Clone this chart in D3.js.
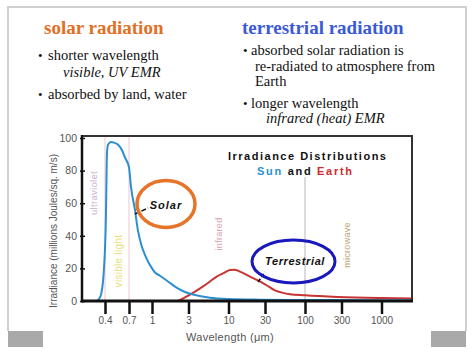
<!DOCTYPE html>
<html>
<head>
<meta charset="utf-8">
<script src="https://cdn.jsdelivr.net/npm/d3@7"></script>
<style>
  html, body { margin: 0; padding: 0; background: #fff; }
  svg { display: block; }
</style>
</head>
<body>
<svg id="chart" width="474" height="355"></svg>
<script>
// ---- data ----
const solarWavelength = [0.33, 0.345, 0.365, 0.382, 0.395, 0.40, 0.409, 0.414, 0.419, 0.43, 0.46, 0.50, 0.54, 0.60, 0.638, 0.70, 0.722, 0.767, 0.805, 0.85, 0.899, 1.0, 1.094, 1.27, 1.62, 2.12, 2.7, 3.43, 5.74, 10, 25.8, 100, 1000, 2500];
const solarIrradiance = [0, 1, 4, 12, 25, 32, 53, 75, 91, 96, 97.5, 97, 96, 92, 88, 82, 70, 56, 43, 34, 28, 20, 17.5, 15.5, 12, 8, 5.5, 4, 2, 1.2, 0.8, 0.6, 0.5, 0.4];
const earthWavelength = [2.19, 2.7, 3.43, 4.5, 5.74, 7, 8.5, 10.5, 12, 14.1, 19.1, 25.8, 31.9, 40.5, 51.5, 63.5, 100, 270, 1000, 2500];
const earthIrradiance = [0, 2.2, 5, 8.5, 12, 15, 17, 19, 19.2, 18, 15, 12, 9.5, 6.5, 5, 4.2, 3.5, 2.5, 1.8, 1.5];
const xTickValues = [0.4, 0.7, 1, 3, 10, 30, 100, 300, 1000];
const xTickLabels = ["0.4", "0.7", "1", "3", "10", "30", "100", "300", "1000"];
const yTickValues = [0, 20, 40, 60, 80, 100];
const bandLines = [0.4, 0.7];
const bandLabels = ["ultraviolet", "visible light", "infrared", "microwave"];

const svg = d3.select("#chart");
const sans = "'Liberation Sans', Arial, Helvetica, sans-serif";
const serif = "'Liberation Serif', 'Times New Roman', serif";

// ---- slide frame ----
svg.append("path").attr("d", "M8,331 V7 H466 V331").attr("fill", "none").attr("stroke", "#d0d0d0").attr("stroke-width", 2);
svg.append("rect").attr("x", 8).attr("y", 331).attr("width", 35).attr("height", 16).attr("fill", "#a9a9a9");
svg.append("rect").attr("x", 431).attr("y", 331).attr("width", 35).attr("height", 16).attr("fill", "#a9a9a9");

// ---- header text ----
function txt(x, y, s, opts) {
  const t = svg.append("text").attr("x", x).attr("y", y).text(s)
    .attr("font-family", serif).attr("font-size", opts.size || 15)
    .attr("fill", opts.fill || "#111");
  if (opts.bold) t.attr("font-weight", "bold");
  if (opts.italic) t.attr("font-style", "italic");
  if (opts.ls) t.attr("letter-spacing", opts.ls);
  return t;
}
txt(44, 34, "solar radiation", {size: 19, bold: true, fill: "#e26f26"});
txt(38, 60, "•", {size: 13});
txt(48, 60, "shorter wavelength", {size: 14.5});
txt(63, 76.5, "visible, UV EMR", {size: 14.5, italic: true});
txt(38, 99, "•", {size: 13});
txt(48, 99, "absorbed by land, water", {size: 14.5});

txt(242, 34, "terrestrial radiation", {size: 19, bold: true, fill: "#3a5ad6"});
txt(243, 55, "•", {size: 13});
txt(251, 55, "absorbed solar radiation is", {size: 14.5});
txt(255, 71, "re-radiated to atmosphere from", {size: 14.5});
txt(255, 86, "Earth", {size: 14.5});
txt(243, 108, "•", {size: 13});
txt(251, 108, "longer wavelength", {size: 14.5});
txt(266, 123, "infrared (heat) EMR", {size: 14.5, italic: true});

// ---- chart ----
const plot = {left: 82, right: 412, top: 136, bottom: 301};
const x = d3.scaleLog().domain([0.4, 0.7, 1, 1000]).range([105, 129, 152, 381.5]);
const y = d3.scaleLinear().domain([0, 100]).range([301, 138]);

svg.append("clipPath").attr("id", "clip").append("rect")
  .attr("x", plot.left).attr("y", plot.top).attr("width", plot.right - plot.left).attr("height", plot.bottom - plot.top);

// band lines
svg.selectAll(".band").data(bandLines).join("line")
  .attr("x1", d => x(d)).attr("x2", d => x(d)).attr("y1", plot.top).attr("y2", plot.bottom)
  .attr("stroke", "#efc6cf").attr("stroke-width", 1);
svg.append("line").attr("x1", x(100)).attr("x2", x(100)).attr("y1", 177).attr("y2", plot.bottom)
  .attr("stroke", "#b8b8b8").attr("stroke-width", 1);

// band labels (rotated)
const bandPos = [
  {x: 97, y: 193, fill: "#c9b3cc", size: 9.5},
  {x: 122, y: 261, fill: "#e6df7a", size: 10},
  {x: 222, y: 234, fill: "#dca3b2", size: 9},
  {x: 350, y: 245, fill: "#b9a876", size: 9}
];
bandLabels.forEach((s, i) => {
  const p = bandPos[i];
  svg.append("text").attr("transform", `translate(${p.x},${p.y}) rotate(-90)`)
    .attr("text-anchor", "middle").attr("font-family", sans).attr("font-size", p.size)
    .attr("fill", p.fill).attr("letter-spacing", 0.3).text(s);
});

// curves
const line = d3.line().x(d => x(d[0])).y(d => y(d[1])).curve(d3.curveMonotoneX);
const g = svg.append("g").attr("clip-path", "url(#clip)");
g.append("path").datum(earthWavelength.map((w, i) => [w, earthIrradiance[i]]))
  .attr("d", line).attr("fill", "none").attr("stroke", "#c83434").attr("stroke-width", 2);
g.append("path").datum(solarWavelength.map((w, i) => [w, solarIrradiance[i]]))
  .attr("d", line).attr("fill", "none").attr("stroke", "#2b8fd2").attr("stroke-width", 2);

// box
svg.append("path").attr("d", `M${plot.left},${plot.top} H${plot.right} V${plot.bottom}`)
  .attr("fill", "none").attr("stroke", "#333").attr("stroke-width", 2);

// axes
const xAxis = svg.append("g").attr("transform", `translate(0,${plot.bottom})`)
  .call(d3.axisBottom(x).tickValues(xTickValues).tickFormat((d, i) => xTickLabels[i]).tickSize(13).tickSizeOuter(0));
xAxis.select(".domain").remove();
xAxis.selectAll(".tick line").attr("stroke", "#111").attr("stroke-width", 2.5);
xAxis.selectAll(".tick text").attr("font-family", sans).attr("font-size", 10).attr("fill", "#555").attr("dy", "0.5em").attr("y", 18);

const yAxis = svg.append("g").attr("transform", `translate(${plot.left},0)`)
  .call(d3.axisLeft(y).tickValues(yTickValues).tickSize(4).tickSizeOuter(0));
yAxis.select(".domain").remove();
yAxis.selectAll(".tick line").attr("stroke", "#111").attr("stroke-width", 1.5).attr("x2", 3).attr("x1", -2);
yAxis.selectAll(".tick text").attr("font-family", sans).attr("font-size", 10.5).attr("fill", "#555").attr("x", -5);

svg.append("line").attr("x1", plot.left).attr("x2", plot.left).attr("y1", plot.top - 1).attr("y2", plot.bottom + 1.5)
  .attr("stroke", "#111").attr("stroke-width", 2.5);
svg.append("line").attr("x1", plot.left).attr("x2", plot.right + 1).attr("y1", plot.bottom).attr("y2", plot.bottom)
  .attr("stroke", "#111").attr("stroke-width", 3);

// axis titles
svg.append("text").attr("x", 230).attr("y", 341).attr("text-anchor", "middle")
  .attr("font-family", sans).attr("font-size", 11).attr("fill", "#555").attr("letter-spacing", 0.3)
  .text("Wavelength (μm)");
svg.append("text").attr("transform", "translate(57,231) rotate(-90)").attr("text-anchor", "middle")
  .attr("font-family", sans).attr("font-size", 10).attr("fill", "#555")
  .text("Irradiance (millions Joules/sq. m/s)");

// chart title
svg.append("text").attr("x", 228).attr("y", 160).attr("font-family", sans).attr("font-size", 11)
  .attr("font-weight", "bold").attr("letter-spacing", 1.5).attr("fill", "#111").text("Irradiance Distributions");
const t2 = svg.append("text").attr("x", 257).attr("y", 175).attr("font-family", sans).attr("font-size", 11)
  .attr("font-weight", "bold").attr("letter-spacing", 1.7);
t2.append("tspan").attr("fill", "#2b8fd2").text("Sun");
t2.append("tspan").attr("fill", "#111").text(" and ");
t2.append("tspan").attr("fill", "#d02a2a").text("Earth");

// callouts
svg.append("line").attr("x1", 135).attr("y1", 214).attr("x2", 148).attr("y2", 208)
  .attr("stroke", "#111").attr("stroke-width", 1.5).attr("stroke-dasharray", "5,2");
svg.append("ellipse").attr("cx", 166).attr("cy", 204).attr("rx", 29).attr("ry", 23.5)
  .attr("fill", "none").attr("stroke", "#e8742a").attr("stroke-width", 3.5);
svg.append("text").attr("x", 166).attr("y", 209).attr("text-anchor", "middle").attr("font-family", sans)
  .attr("font-size", 11).attr("font-weight", "bold").attr("font-style", "italic").attr("letter-spacing", 1)
  .attr("fill", "#111").text("Solar");

svg.append("line").attr("x1", 258).attr("y1", 282).attr("x2", 265).attr("y2", 272)
  .attr("stroke", "#111").attr("stroke-width", 1.5).attr("stroke-dasharray", "4,2");
svg.append("ellipse").attr("cx", 293.5).attr("cy", 261.5).attr("rx", 41.5).attr("ry", 21.5)
  .attr("fill", "none").attr("stroke", "#1818bb").attr("stroke-width", 3);
svg.append("text").attr("x", 295).attr("y", 265).attr("text-anchor", "middle").attr("font-family", sans)
  .attr("font-size", 11).attr("font-weight", "bold").attr("font-style", "italic").attr("letter-spacing", 0.6)
  .attr("fill", "#111").text("Terrestrial");
</script>
</body>
</html>
